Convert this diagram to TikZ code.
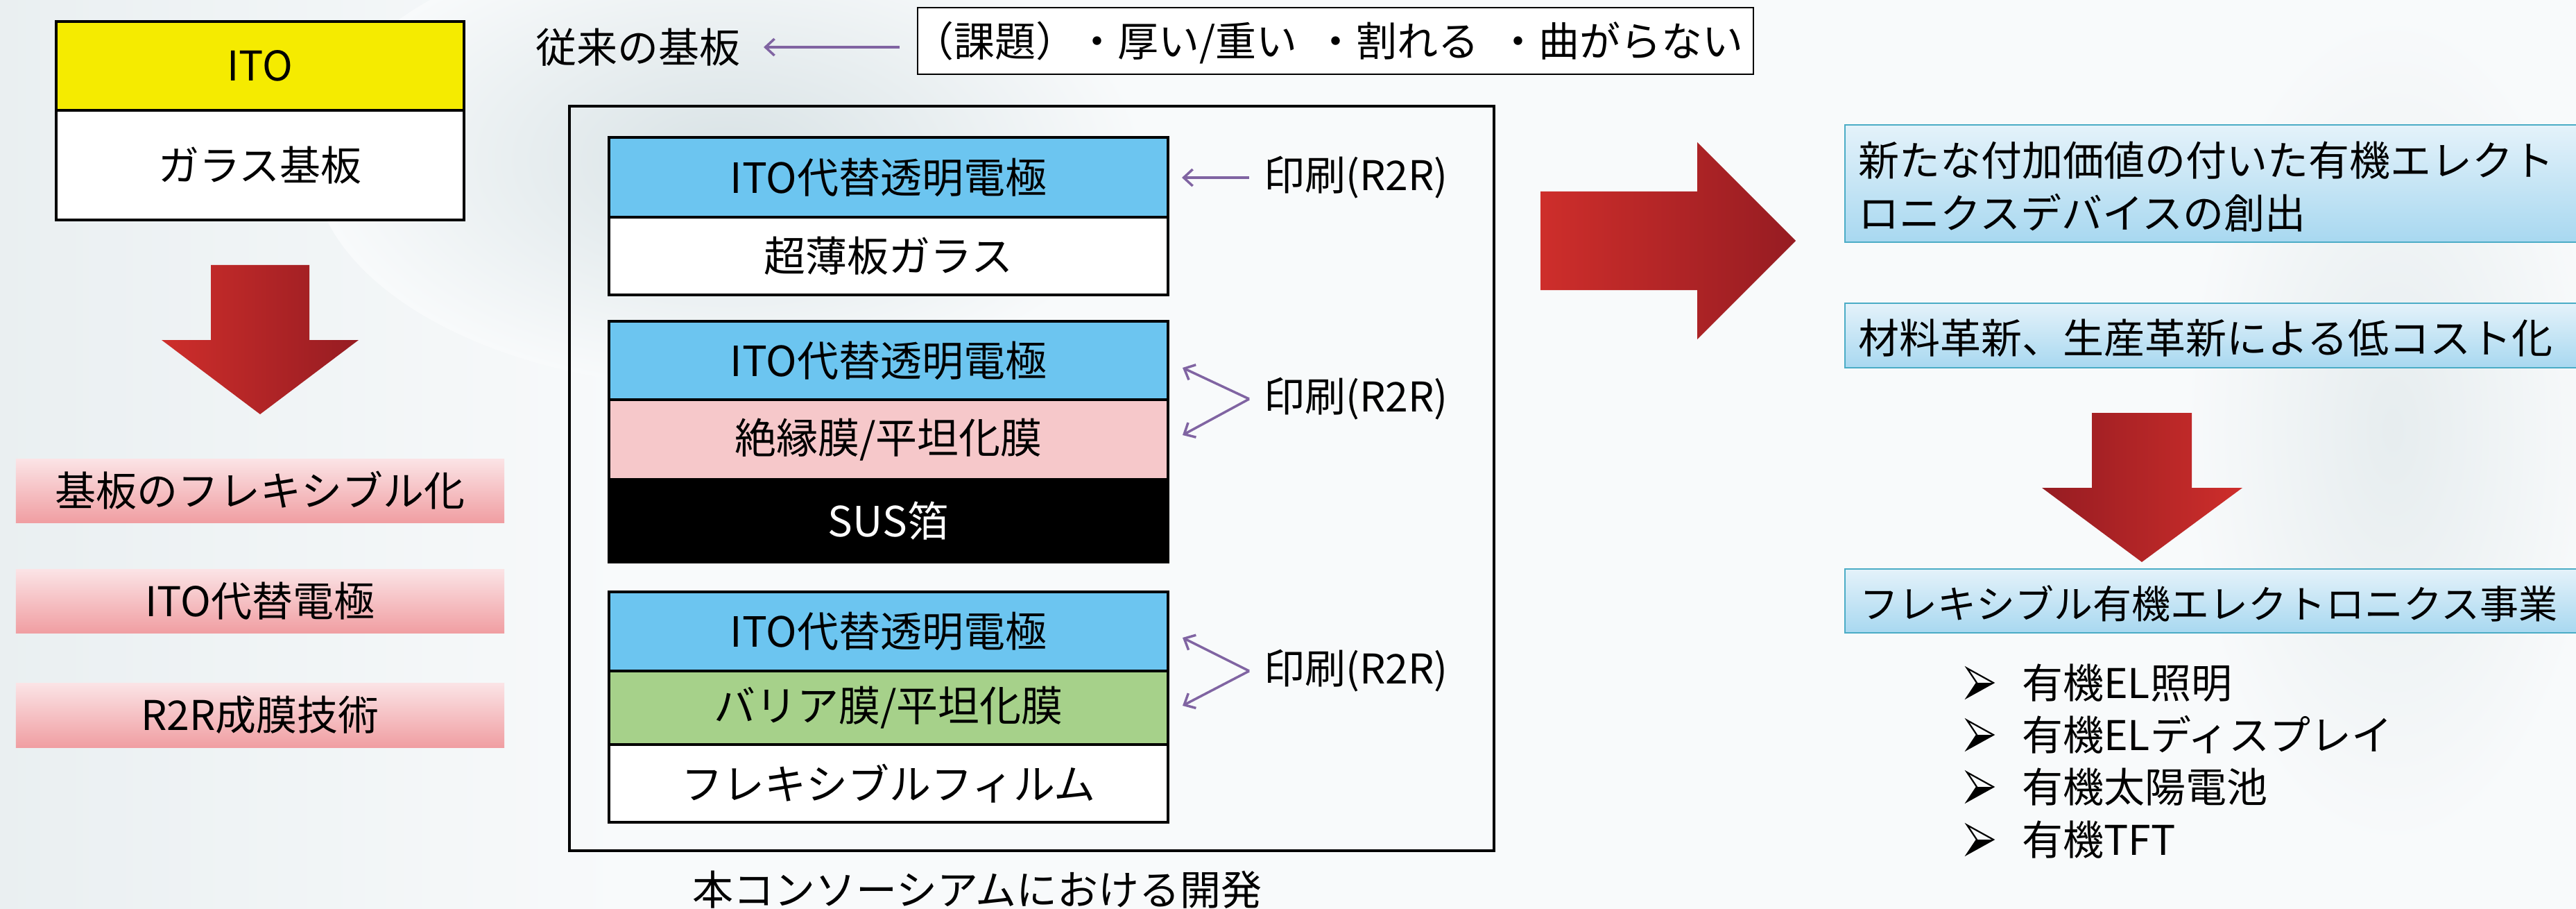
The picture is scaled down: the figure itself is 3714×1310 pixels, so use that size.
\documentclass[tikz,border=0pt]{standalone}
\usepackage{fontspec}
\setmainfont{Noto Sans CJK JP}
\usetikzlibrary{arrows.meta,calc}
\definecolor{laybl}{RGB}{108,197,240}
\definecolor{laypk}{RGB}{246,200,202}
\definecolor{laygn}{RGB}{166,209,138}
\definecolor{itoyel}{RGB}{245,235,0}
\definecolor{redA}{RGB}{206,46,43}
\definecolor{redB}{RGB}{150,28,34}
\definecolor{pkTop}{RGB}{251,228,230}
\definecolor{pkBot}{RGB}{240,158,162}
\definecolor{bxTop}{RGB}{228,242,250}
\definecolor{bxBot}{RGB}{168,216,240}
\definecolor{bxLine}{RGB}{75,172,198}
\definecolor{purp}{RGB}{128,100,162}
\definecolor{bgA}{RGB}{216,226,229}
\definecolor{bgB}{RGB}{248,250,251}
\newcommand\fsM{\fontsize{59bp}{76bp}\selectfont}
\newcommand\fsL{\fontsize{60bp}{76bp}\selectfont}
\newcommand\fsS{\fontsize{56bp}{70bp}\selectfont}
\begin{document}
\begin{tikzpicture}[x=1bp,y=-1bp,
  layer/.style={draw=black, line width=4bp, minimum width=806bp, inner sep=0pt, font=\fsL},
  itobox/.style={draw=black, line width=4bp, minimum width=588bp, inner sep=0pt, font=\fsM},
  pinkbox/.style={top color=pkTop, bottom color=pkBot, minimum width=704bp, inner sep=0pt, font=\fsM},
  bluebox/.style={draw=bxLine, line width=2.5bp, top color=bxTop, bottom color=bxBot, minimum width=1080bp, inner sep=0pt},
  txt/.style={inner sep=0pt, font=\fsM},
  parrow/.style={draw=purp, line width=3.5bp, -{Straight Barb[length=13bp,width=24bp]}},
  redshaft/.style={left color=redA, right color=redB},
  redshaftr/.style={left color=redB, right color=redA},
  barrow/.pic={
    \fill[black] (-5,0) -- (19,0) -- (-19,21) -- cycle;
    \draw[line width=2.2bp, line join=miter] (-19,-21) -- (19,0) -- (-19,21) -- (-5,0) -- cycle;
  },
]
\useasboundingbox (0,0) rectangle (3714,1310);
% background
\fill[bgB] (0,0) rectangle (3714,1310);
\shade[left color=bgA!45!bgB, right color=bgB] (0,0) rectangle (900,1310);
\shade[inner color=bgA, outer color=bgB] (1050,230) ellipse [x radius=600bp, y radius=330bp];
\shade[inner color=bgA!55!bgB, outer color=bgB] (3450,620) ellipse [x radius=300bp, y radius=600bp];

% left column
\node[itobox, fill=itoyel, minimum height=128bp] (ito) at (375,95) {ITO};
\node[itobox, fill=white, minimum height=158bp] (glass) at (375,238) {ガラス基板};
\shade[redshaft] (304,382) -- (446,382) -- (446,490) -- (517,490) -- (375,597) -- (233,490) -- (304,490) -- cycle;
\node[pinkbox, minimum height=92bp] (pk1) at (375,707) {基板のフレキシブル化};
\node[pinkbox, minimum height=92bp] (pk2) at (375,866) {ITO代替電極};
\node[pinkbox, minimum height=93bp] (pk3) at (375,1030.5) {R2R成膜技術};

% top labels
\node[txt, anchor=east] (jurai) at (1068,68) {従来の基板};
\node[draw=black, line width=2bp, fill=white, minimum width=1205bp, minimum height=96bp, inner sep=0pt] (issue) at (1925.5,59) {};
\node[txt, anchor=west] (issuetxt) at (1316,62) {（課題）・厚い/重い\hspace{0.45em}・割れる\hspace{0.45em}・曲がらない};
\draw[parrow, shorten <=25bp, shorten >=33bp] (issue.west |- jurai.east) -- (jurai.east);

% frame
\draw[line width=4bp] (821,153) rectangle (2154,1226);
\node[layer, fill=laybl, minimum height=115bp] (l1a) at (1281,255.5) {ITO代替透明電極};
\node[layer, fill=white, minimum height=112bp] (l1b) at (1281,369) {超薄板ガラス};
\node[layer, fill=laybl, minimum height=113bp] (l2a) at (1281,519.5) {ITO代替透明電極};
\node[layer, fill=laypk, minimum height=115bp] (l2b) at (1281,633.5) {絶縁膜/平坦化膜};
\node[layer, fill=black, text=white, minimum height=119bp] (l2c) at (1281,750.5) {SUS箔};
\node[layer, fill=laybl, minimum height=114bp] (l3a) at (1281,910) {ITO代替透明電極};
\node[layer, fill=laygn, minimum height=106bp] (l3b) at (1281,1020) {バリア膜/平坦化膜};
\node[layer, fill=white, minimum height=112bp] (l3c) at (1281,1129) {フレキシブルフィルム};

\node[txt, anchor=west] (p1) at (1822,256) {印刷(R2R)};
\node[txt, anchor=west] (p2) at (1822,575) {印刷(R2R)};
\node[txt, anchor=west] (p3) at (1822,967) {印刷(R2R)};
\draw[parrow, shorten <=21bp, shorten >=18bp] (p1.west) -- (p1.west -| l1a.east);
\coordinate (t2) at (1801,575);
\coordinate (e2a) at (1705,530);
\coordinate (e2b) at (1705,627);
\draw[parrow] (t2) -- (e2a);
\draw[parrow] (t2) -- (e2b);
\coordinate (t3) at (1801,967);
\coordinate (e3a) at (1705,919);
\coordinate (e3b) at (1705,1017);
\draw[parrow] (t3) -- (e3a);
\draw[parrow] (t3) -- (e3b);

\node[txt] (cap) at (1409,1282) {本コンソーシアムにおける開発};

% right big arrow
\shade[redshaft] (2221,276) -- (2447,276) -- (2447,205) -- (2589,347) -- (2447,489) -- (2447,418) -- (2221,418) -- cycle;

% right column
\node[bluebox, minimum height=169bp] (rb1) at (3200,264.5) {};
\node[txt, anchor=west, align=left] (rt1) at (2679,269) {新たな付加価値の付いた有機エレクト\\ロニクスデバイスの創出};
\node[bluebox, minimum height=93bp] (rb2) at (3200,483.5) {};
\node[txt, anchor=west] (rt2) at (2679,487) {材料革新、生産革新による低コスト化};
\shade[redshaftr] (3016,595) -- (3160,595) -- (3160,703) -- (3233,703) -- (3088,810) -- (2944,703) -- (3016,703) -- cycle;
\node[bluebox, minimum height=92bp] (rb3) at (3200,866) {};
\node[txt, anchor=west, font=\fsS] (rt3) at (2681,870) {フレキシブル有機エレクトロニクス事業};

\pic at (2855,984) {barrow};
\pic at (2855,1059) {barrow};
\pic at (2855,1134) {barrow};
\pic at (2855,1210) {barrow};
\node[txt, anchor=west] (b1) at (2915,984) {有機EL照明};
\node[txt, anchor=west] (b2) at (2915,1059) {有機ELディスプレイ};
\node[txt, anchor=west] (b3) at (2915,1134) {有機太陽電池};
\node[txt, anchor=west] (b4) at (2915,1210) {有機TFT};
\end{tikzpicture}
\end{document}
